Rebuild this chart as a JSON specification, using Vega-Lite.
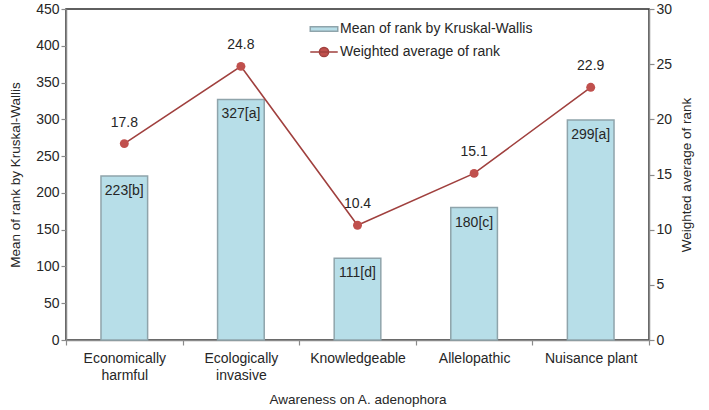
{
  "$schema": "https://vega.github.io/schema/vega-lite/v6.json",
  "autosize": {"type": "none"},
  "width": 583,
  "height": 331,
  "padding": {"left": 66, "top": 9, "right": 60, "bottom": 70},
  "config": {
    "font": "Liberation Sans",
    "view": {"stroke": "#2b2b2b", "strokeWidth": 1.5},
    "axis": {
      "domainColor": "#8a8a8a",
      "domainWidth": 1.5,
      "tickColor": "#8a8a8a",
      "tickWidth": 1.2,
      "tickSize": 5,
      "labelFontSize": 14,
      "labelColor": "#262626",
      "labelOverlap": false,
      "titleFontSize": 13.5,
      "titleFontWeight": "normal",
      "titleColor": "#262626",
      "grid": false
    },
    "legend": {
      "title": null,
      "orient": "none",
      "padding": 0,
      "rowPadding": 0,
      "labelFontSize": 14,
      "labelColor": "#262626",
      "labelLimit": 400,
      "labelOffset": 4,
      "symbolSize": 484,
      "symbolStrokeWidth": 1.5
    }
  },
  "data": {
    "values": [
      {"awareness": "Economically harmful", "kw": 223, "kwLabel": "223[b]", "war": 17.8},
      {"awareness": "Ecologically invasive", "kw": 327, "kwLabel": "327[a]", "war": 24.8},
      {"awareness": "Knowledgeable", "kw": 111, "kwLabel": "111[d]", "war": 10.4},
      {"awareness": "Allelopathic", "kw": 180, "kwLabel": "180[c]", "war": 15.1},
      {"awareness": "Nuisance plant", "kw": 299, "kwLabel": "299[a]", "war": 22.9}
    ]
  },
  "encoding": {
    "x": {
      "field": "awareness",
      "type": "nominal",
      "sort": null,
      "scale": {"paddingInner": 0, "paddingOuter": 0},
      "axis": {
        "title": "Awareness on A. adenophora",
        "labelAngle": 0,
        "tickBand": "extent",
        "labelPadding": 6,
        "labelLineHeight": 17,
        "titlePadding": 10,
        "labelExpr": "datum.label == 'Economically harmful' ? ['Economically', 'harmful'] : datum.label == 'Ecologically invasive' ? ['Ecologically', 'invasive'] : datum.label"
      }
    }
  },
  "layer": [
    {
      "encoding": {
        "y": {
          "field": "kw",
          "type": "quantitative",
          "scale": {"domain": [0, 450], "nice": false},
          "axis": {
            "title": "Mean of rank by Kruskal-Wallis",
            "values": [0, 50, 100, 150, 200, 250, 300, 350, 400, 450],
            "titlePadding": 13
          }
        }
      },
      "layer": [
        {
          "mark": {"type": "bar", "width": {"band": 0.4}, "stroke": "#8fa4ab", "strokeWidth": 1.5},
          "encoding": {
            "fill": {
              "datum": "Mean of rank by Kruskal-Wallis",
              "scale": {"range": ["#b7dee8"]},
              "legend": {
                "legendX": 246,
                "legendY": 8,
                "symbolType": "M-1.25,-0.2H1.25V0.2H-1.25Z",
                "symbolStrokeColor": "#8fa4ab"
              }
            }
          }
        },
        {
          "mark": {"type": "text", "baseline": "middle", "dy": 15, "fontSize": 14, "color": "#262626"},
          "encoding": {
            "text": {"field": "kwLabel"}
          }
        }
      ]
    },
    {
      "encoding": {
        "y": {
          "field": "war",
          "type": "quantitative",
          "scale": {"domain": [0, 30], "nice": false},
          "axis": {
            "orient": "right",
            "title": "Weighted average of rank",
            "titleAngle": 270,
            "values": [0, 5, 10, 15, 20, 25, 30],
            "titlePadding": 22
          }
        }
      },
      "layer": [
        {
          "mark": {"type": "line", "strokeWidth": 1.6},
          "encoding": {
            "stroke": {
              "datum": "Weighted average of rank",
              "scale": {"range": ["#a0403e"]},
              "legend": {
                "legendX": 246,
                "legendY": 31,
                "symbolType": "M-1.25,0H1.25M0.42,0A0.42,0.42,0,1,1,-0.42,0A0.42,0.42,0,1,1,0.42,0Z",
                "symbolFillColor": "#c0504d"
              }
            }
          }
        },
        {
          "mark": {"type": "point", "filled": true, "size": 80, "color": "#c0504d", "opacity": 1}
        },
        {
          "mark": {"type": "text", "baseline": "middle", "dy": -21, "fontSize": 14, "color": "#262626"},
          "encoding": {
            "text": {"field": "war", "type": "quantitative", "format": ".1f"}
          }
        }
      ]
    }
  ],
  "resolve": {"scale": {"y": "independent"}}
}
